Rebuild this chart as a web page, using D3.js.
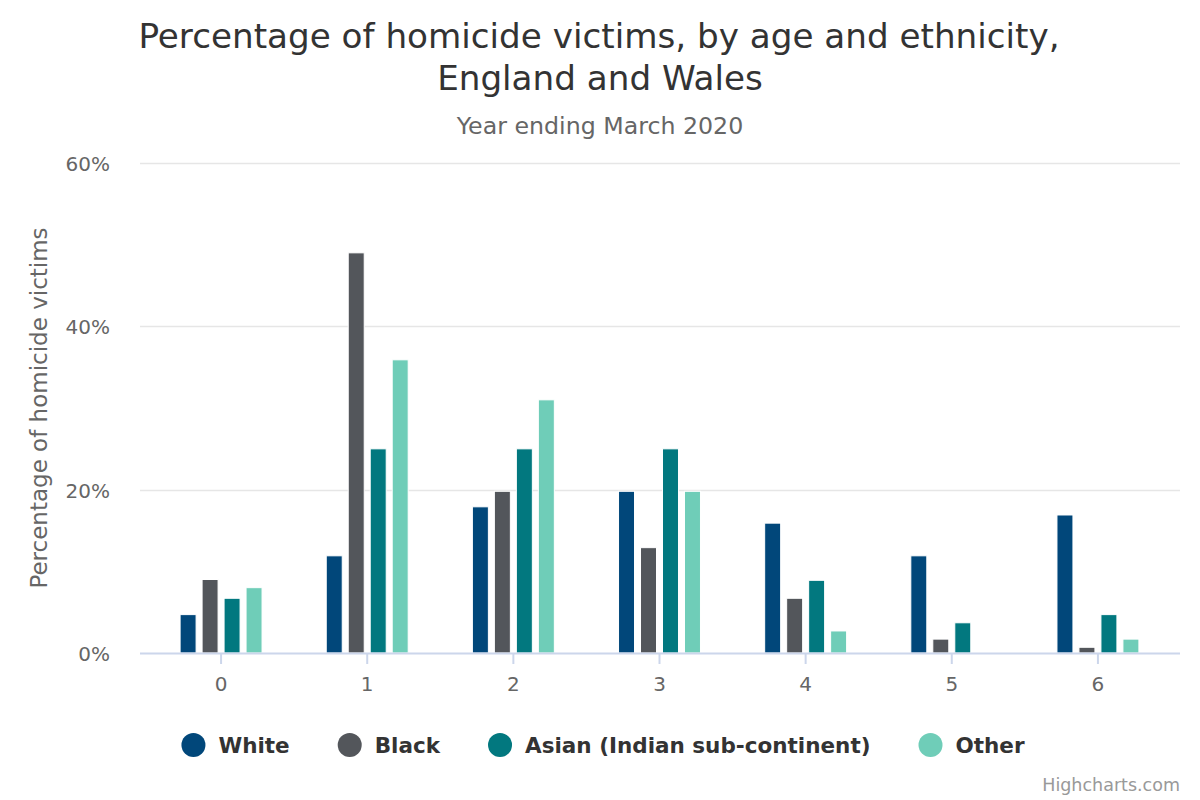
<!DOCTYPE html>
<html>
<head>
<meta charset="utf-8">
<script src="https://cdn.jsdelivr.net/npm/d3@7"></script>
<style>
  html, body { margin: 0; padding: 0; background: #fff; }
  svg { display: block; font-family: "DejaVu Sans", sans-serif; }
</style>
</head>
<body>
<svg id="chart" width="1200" height="800"></svg>
<script>
const categories = ["0", "1", "2", "3", "4", "5", "6"];
const seriesNames = ["White", "Black", "Asian (Indian sub-continent)", "Other"];
const seriesColors = ["#01477a", "#53565b", "#02787f", "#6fcdb8"];
const white = [4.7, 11.9, 17.9, 19.8, 15.9, 11.9, 16.9];
const black = [9.0, 49.0, 19.8, 12.9, 6.7, 1.7, 0.7];
const asian = [6.7, 25.0, 25.0, 25.0, 8.9, 3.7, 4.7];
const other = [8.0, 35.9, 31.0, 19.8, 2.7, 0, 1.7];
const yTicks = [0, 20, 40, 60];

const seriesValues = [white, black, asian, other];

const svg = d3.select("#chart");
const plotLeft = 140, plotRight = 1180, plotTop = 163, plotBottom = 653;

const x = d3.scaleBand().domain(categories).range([148, 1171]);
const xInner = d3.scaleBand().domain(seriesNames).range([0, x.bandwidth()])
  .paddingInner(0.273).paddingOuter(1.46);
const y = d3.scaleLinear().domain([0, 60]).range([plotBottom, plotTop]);

// Title
svg.append("text").attr("x", 599).attr("y", 48).attr("text-anchor", "middle")
  .attr("font-size", 34.2).attr("fill", "#333")
  .text("Percentage of homicide victims, by age and ethnicity,");
svg.append("text").attr("x", 600).attr("y", 90).attr("text-anchor", "middle")
  .attr("font-size", 34.2).attr("fill", "#333")
  .text("England and Wales");
svg.append("text").attr("x", 600).attr("y", 134).attr("text-anchor", "middle")
  .attr("font-size", 23.7).attr("fill", "#666")
  .text("Year ending March 2020");

// Grid
svg.append("g").selectAll("line").data(yTicks.filter(d => d > 0)).join("line")
  .attr("x1", plotLeft).attr("x2", plotRight)
  .attr("y1", d => Math.round(y(d)) + 0.5).attr("y2", d => Math.round(y(d)) + 0.5)
  .attr("stroke", "#e6e6e6").attr("stroke-width", 1.5);

// Y labels
svg.append("g").selectAll("text").data(yTicks).join("text")
  .attr("x", 110).attr("y", d => y(d) + 8).attr("text-anchor", "end")
  .attr("font-size", 20).attr("fill", "#666")
  .text(d => d + "%");

// Y title
svg.append("text")
  .attr("transform", `translate(47,${(plotTop + plotBottom) / 2}) rotate(-90)`)
  .attr("text-anchor", "middle").attr("font-size", 23).attr("fill", "#666")
  .text("Percentage of homicide victims");

// Bars
const groups = svg.append("g").selectAll("g").data(categories).join("g")
  .attr("transform", d => `translate(${x(d)},0)`);
groups.selectAll("rect")
  .data((c, i) => seriesNames.map((s, j) => ({ s, j, v: seriesValues[j][i] })))
  .join("rect")
  .attr("x", d => xInner(d.s))
  .attr("width", xInner.bandwidth())
  .attr("y", d => y(d.v))
  .attr("height", d => y(0) - y(d.v))
  .attr("fill", d => seriesColors[d.j])
  .attr("stroke", "#fff").attr("stroke-width", 1)
  .style("display", d => d.v > 0 ? null : "none");

// X axis
svg.append("line").attr("x1", plotLeft).attr("x2", plotRight)
  .attr("y1", plotBottom + 0.5).attr("y2", plotBottom + 0.5)
  .attr("stroke", "#ccd6eb").attr("stroke-width", 2);
svg.append("g").selectAll("line").data(categories).join("line")
  .attr("x1", d => x(d) + x.bandwidth() / 2).attr("x2", d => x(d) + x.bandwidth() / 2)
  .attr("y1", plotBottom).attr("y2", plotBottom + 11)
  .attr("stroke", "#ccd6eb").attr("stroke-width", 2);
svg.append("g").selectAll("text").data(categories).join("text")
  .attr("x", d => x(d) + x.bandwidth() / 2).attr("y", 691)
  .attr("text-anchor", "middle").attr("font-size", 20).attr("fill", "#666")
  .text(d => d);

// Legend
const legend = svg.append("g");
const items = legend.selectAll("g").data(seriesNames).join("g");
items.append("circle").attr("r", 12).attr("cx", 12).attr("cy", 0)
  .attr("fill", (d, i) => seriesColors[i]);
items.append("text").attr("x", 37).attr("y", 8)
  .attr("font-size", 21.5).attr("font-weight", "bold").attr("fill", "#333")
  .text(d => d);
const widths = [];
items.each(function () {
  widths.push(37 + this.querySelector("text").getComputedTextLength());
});
const gap = 48;
const total = d3.sum(widths) + gap * (widths.length - 1);
let start = 603 - total / 2;
items.attr("transform", (d, i) => {
  const t = `translate(${start},745)`;
  start += widths[i] + gap;
  return t;
});

// Credit
svg.append("text").attr("x", 1180).attr("y", 791).attr("text-anchor", "end")
  .attr("font-size", 17.5).attr("fill", "#999").text("Highcharts.com");
</script>
</body>
</html>
